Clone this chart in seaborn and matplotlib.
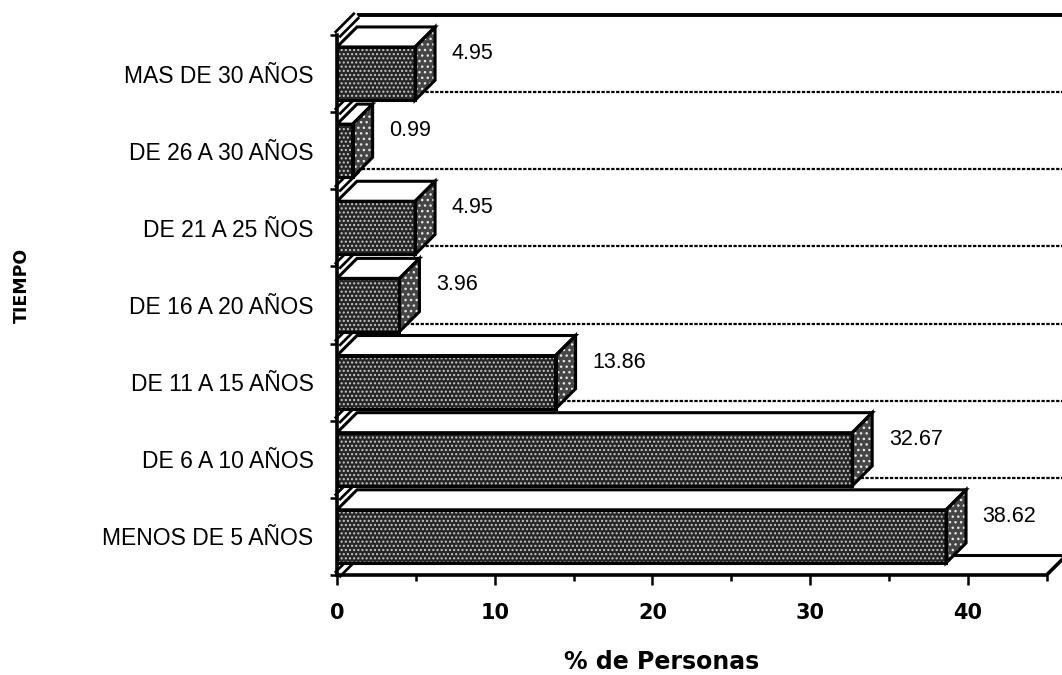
import matplotlib
matplotlib.use("Agg")
import matplotlib.pyplot as plt
from matplotlib.patches import Polygon, Rectangle
import pandas as pd
import seaborn as sns

# Tiempo (años) y porcentaje de personas
categorias = ["MAS DE 30 AÑOS", "DE 26 A 30 AÑOS", "DE 21 A 25 ÑOS", "DE 16 A 20 AÑOS",
              "DE 11 A 15 AÑOS", "DE 6 A 10 AÑOS", "MENOS DE 5 AÑOS"]
porcentajes = [4.95, 0.99, 4.95, 3.96, 13.86, 32.67, 38.62]
x_ticks = [0, 10, 20, 30, 40]
x_minor = [5, 15, 25, 35, 45]
x_fin = 45

sns.set_theme(style="white")
plt.rcParams["font.family"] = ["Liberation Sans", "DejaVu Sans"]
plt.rcParams["hatch.linewidth"] = 1.0
for key in ["text.color", "axes.labelcolor", "xtick.color", "ytick.color",
            "xtick.labelcolor", "ytick.labelcolor"]:
    plt.rcParams[key] = "black"

W, H = 1062, 675
fig = plt.figure(figsize=(W / 100, H / 100), dpi=100)

# axes geometry (pixels): x=0 at 337, 15.77 px per unit; categories 77.14 px apart
px_x = 15.77
px_y = 77.14
x_hi = 47
y_top = -0.8
ax = fig.add_axes([337 / W, (H - 575) / H, x_hi * px_x / W, (6.5 - y_top) * px_y / H])

df = pd.DataFrame({"tiempo": categorias, "pct": porcentajes})
sns.barplot(data=df, x="pct", y="tiempo", orient="h", width=0.69,
            color="#262626", saturation=1, edgecolor="black", linewidth=0,
            ax=ax, zorder=3)

ax.set_xlim(0, x_hi)
ax.set_ylim(6.5, y_top)
for s in ax.spines.values():
    s.set_visible(False)

# depth of the 3-D effect in data units
DX = 20 / px_x
DY = 20 / px_y
n = len(categorias)
x_back_end = x_hi + 2

# back wall: top edge, grid lines at category boundaries, bottom edge
ax.plot([DX, x_back_end], [-0.5 - DY] * 2, color="black", lw=2.8, zorder=1,
        clip_on=False, solid_capstyle="butt")
for k in range(1, n):
    b = k - 0.5
    ax.plot([DX, x_back_end], [b - DY] * 2, color="black", lw=1.6,
            ls=(0, (1.5, 0.7)), zorder=1, clip_on=False)
ax.plot([DX, x_back_end], [n - 0.5 - DY] * 2, color="black", lw=2.2, zorder=1,
        clip_on=False)

# left wall stripes at every category boundary
for k in range(n + 1):
    b = k - 0.5
    ax.plot([0, DX], [b, b - DY], color="black", lw=6.5, zorder=1.5,
            solid_capstyle="butt", clip_on=False)
    ax.plot([0, DX], [b, b - DY], color="white", lw=2.6, zorder=1.6,
            solid_capstyle="butt", clip_on=False)

# 3-D faces of every bar built from the drawn bars
for bar in list(ax.patches):
    w = bar.get_width()
    y0 = bar.get_y()
    y1 = y0 + bar.get_height()
    ax.add_patch(Rectangle((0, y0), w, y1 - y0, fill=False, edgecolor="#c8c8c8",
                           hatch="....", lw=0, zorder=3.2))
    ax.add_patch(Rectangle((0, y0), w, y1 - y0, fill=False, edgecolor="black",
                           lw=2.2, zorder=3.6))
    top = [(0, y0), (w, y0), (w + DX, y0 - DY), (DX, y0 - DY)]
    ax.add_patch(Polygon(top, closed=True, facecolor="white", edgecolor="black",
                         lw=2.2, zorder=3.4))
    side = [(w, y0), (w, y1), (w + DX, y1 - DY), (w + DX, y0 - DY)]
    ax.add_patch(Polygon(side, closed=True, facecolor="#454545", edgecolor="none",
                         zorder=3.3))
    ax.add_patch(Polygon(side, closed=True, fill=False, edgecolor="#e6e6e6",
                         hatch="...", lw=0, zorder=3.35))
    ax.add_patch(Polygon(side, closed=True, fill=False, edgecolor="black",
                         lw=2.2, zorder=3.5))

# value labels
for i, v in enumerate(porcentajes):
    ax.text(v + DX + 1.05, i - 0.26, f"{v:.2f}", ha="left", va="center",
            fontsize=15.5, color="black", zorder=6)

# front axes
ax.plot([0, 0], [-0.5, n - 0.5], color="black", lw=2.6, zorder=5,
        clip_on=False, solid_capstyle="projecting")
ax.plot([0, x_fin, x_fin + DX], [n - 0.5, n - 0.5, n - 0.5 - DY], color="black",
        lw=2.6, zorder=5, clip_on=False)

# ticks
ax.set_xticks(x_ticks)
ax.set_xticks(x_minor, minor=True)
ax.set_xticklabels([str(t) for t in x_ticks], fontfamily="DejaVu Sans",
                   fontweight="bold", fontsize=15)
ax.tick_params(axis="x", which="major", bottom=True, direction="out",
               length=7.5, width=1.8, color="black", pad=13)
ax.tick_params(axis="x", which="minor", bottom=True, direction="out",
               length=4.5, width=1.8, color="black")
ax.set_yticks(range(n))
ax.set_yticklabels(categorias, fontsize=16.5)
ax.set_yticks([k - 0.5 for k in range(n + 1)], minor=True)
ax.tick_params(axis="y", which="major", left=True, length=0, pad=17)
ax.tick_params(axis="y", which="minor", left=True, direction="out",
               length=5, width=1.8, color="black")

ax.set_xlabel("% de Personas", fontfamily="DejaVu Sans", fontweight="bold",
              fontsize=17)
ax.xaxis.set_label_coords((662 - 337) / (x_hi * px_x), -(662 - 575) / ((6.5 - y_top) * px_y))
ax.xaxis.label.set_va("center")
ax.set_ylabel("TIEMPO", fontfamily="DejaVu Sans", fontweight="bold", fontsize=12.5)
ax.yaxis.set_label_coords((22 - 337) / (x_hi * px_x), (575 - 285) / ((6.5 - y_top) * px_y))
ax.yaxis.label.set_va("center")

fig.savefig("out.png", dpi=100)
